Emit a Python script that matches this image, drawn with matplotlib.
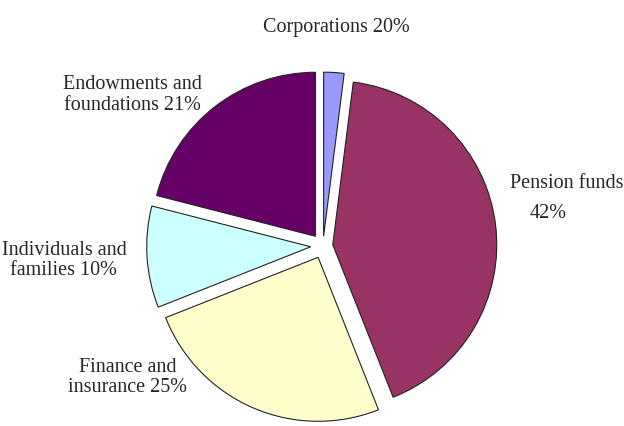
import matplotlib
matplotlib.use("Agg")
import matplotlib.pyplot as plt

# slices, clockwise from 12 o'clock
labels = ["Corporations", "Pension funds", "Finance and insurance",
          "Individuals and families", "Endowments and foundations"]
shares = [2, 42, 25, 10, 21]
colors = ["#9999FF", "#993366", "#FFFFCC", "#CCFFFF", "#660066"]
explode = [0.06, 0.06, 0.075, 0.075, 0.075]

plt.rcParams["font.family"] = ["Liberation Serif", "DejaVu Serif"]

fig = plt.figure(figsize=(6.24, 4.26), dpi=100)
ax = fig.add_axes([0, 0, 1, 1])
ax.pie(shares, colors=colors, explode=explode, startangle=90, counterclock=False,
       radius=1.0, wedgeprops=dict(edgecolor="#222222", linewidth=0.8))

# pixel mapping: centre at (323, 246) image px, 164 px per unit
ax.set_xlim(-323 / 164, (624 - 323) / 164)
ax.set_ylim(-180 / 164, 246 / 164)
ax.set_aspect("auto")
ax.axis("off")

tc = "#262626"
fs = 14.5
ls = 1.1
ax.text(0.08, 1.335, "Corporations 20%", ha="center", va="center", fontsize=fs, color=tc)
ax.text(1.14, 0.38, "Pension funds", ha="left", va="center", fontsize=fs, color=tc)
ax.text(1.26, 0.20, "42%", ha="left", va="center", fontsize=fs, color=tc)
ax.text(-1.16, 0.92, "Endowments and\nfoundations 21%", ha="center", va="center",
        fontsize=fs, color=tc, linespacing=ls)
ax.text(-1.58, -0.09, "Individuals and\nfamilies 10%", ha="center", va="center",
        fontsize=fs, color=tc, linespacing=ls)
ax.text(-1.19, -0.80, "Finance and\ninsurance 25%", ha="center", va="center",
        fontsize=fs, color=tc, linespacing=ls)

fig.savefig("out.png", dpi=100)
